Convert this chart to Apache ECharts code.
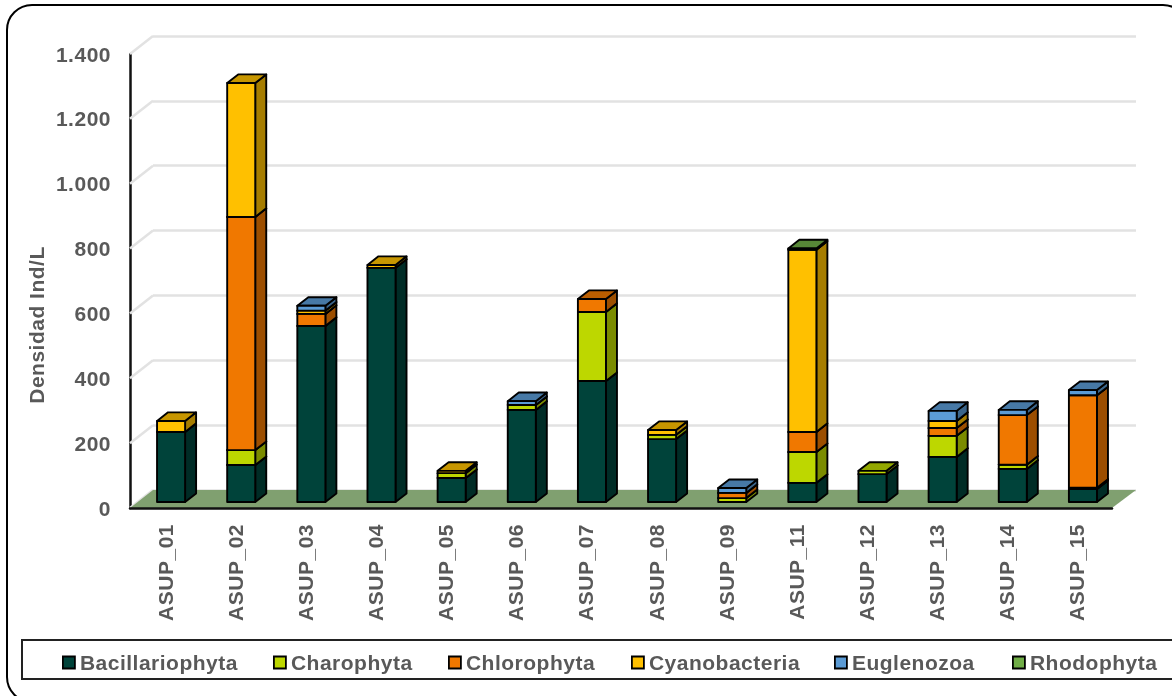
<!DOCTYPE html>
<html>
<head>
<meta charset="utf-8">
<script src="https://cdn.jsdelivr.net/npm/echarts@6/dist/echarts.min.js"></script>
<style>
html,body{margin:0;padding:0;background:#fff}
#c{width:1172px;height:696px;overflow:hidden;filter:blur(0.45px)}
#c text{letter-spacing:0.5px}
</style>
</head>
<body>
<div id="c"></div>
<script>
const categories = ['ASUP_01','ASUP_02','ASUP_03','ASUP_04','ASUP_05','ASUP_06','ASUP_07','ASUP_08','ASUP_09','ASUP_11','ASUP_12','ASUP_13','ASUP_14','ASUP_15'];
const bacillariophyta = [216,114,543,722,74,284,373,194,0,59,86,139,102,40];
const charophyta      = [0,46,0,0,15,15,213,13,12,95,10,65,13,4];
const chlorophyta     = [0,719,37,0,0,0,40,0,16,62,0,24,153,285];
const cyanobacteria   = [34,413,10,9,7,0,0,15,0,562,0,22,0,0];
const euglenozoa      = [0,0,15,0,0,12,0,0,15,0,0,31,16,16];
const rhodophyta      = [0,0,0,0,0,0,0,0,0,4,0,0,0,0];
const yTicks = [0,200,400,600,800,1000,1200,1400];
const yTickLabels = ['0','200','400','600','800','1.000','1.200','1.400'];

const phyla = [
  ['Bacillariophyta', bacillariophyta, '#00433A', 62],
  ['Charophyta', charophyta, '#BDD700', 273],
  ['Chlorophyta', chlorophyta, '#F07800', 448],
  ['Cyanobacteria', cyanobacteria, '#FFC000', 631],
  ['Euglenozoa', euglenozoa, '#5B9BD5', 834],
  ['Rhodophyta', rhodophyta, '#70AD47', 1012]
];
const WALL_DX = 23, WALL_DY = -18, BAR_DX = 11, BAR_DY = -8.6;
const FONT = '"Liberation Sans", Arial, sans-serif', GREY = '#595959';

function shade(hex, k) {
  const n = parseInt(hex.slice(1), 16);
  const f = s => Math.round(((n >> s) & 255) * k);
  return `rgb(${f(16)},${f(8)},${f(0)})`;
}

function barItem(color) {
  const sideC = shade(color, 0.65), topC = shade(color, 0.78);
  return (params, api) => {
    const base = api.value(1), top = api.value(2);
    if (top <= base) return null;
    const w = api.size([1, 0])[0] * 0.4;
    const a = api.coord([api.value(0), base]);
    const b = api.coord([api.value(0), top]);
    const x0 = a[0] - w / 2, x1 = a[0] + w / 2, y0 = a[1], y1 = b[1];
    const st = { stroke: '#000', lineWidth: 1.9, lineJoin: 'round' };
    const poly = (pts, fill) => ({ type: 'polygon', shape: { points: pts }, style: Object.assign({ fill }, st) });
    return { type: 'group', children: [
      poly([[x1, y0], [x1 + BAR_DX, y0 + BAR_DY], [x1 + BAR_DX, y1 + BAR_DY], [x1, y1]], sideC),
      poly([[x0, y1], [x1, y1], [x1 + BAR_DX, y1 + BAR_DY], [x0 + BAR_DX, y1 + BAR_DY]], topC),
      poly([[x0, y0], [x1, y0], [x1, y1], [x0, y1]], color)
    ] };
  };
}

const cum = categories.map(() => 0);
const barSeries = phyla.map(([name, vals, color]) => {
  const data = vals.map((v, i) => { const row = [i, cum[i], cum[i] + v]; cum[i] += v; return row; });
  return {
    type: 'custom', name, xAxisIndex: 2, yAxisIndex: 2, z: 5,
    itemStyle: { color }, encode: { x: 0, y: [1, 2] }, data, renderItem: barItem(color), silent: true
  };
});

const wallSeries = {
  type: 'custom', name: 'wall', xAxisIndex: 0, yAxisIndex: 0, z: 1, silent: true,
  data: yTicks.map(t => [0, t]), encode: { x: 0, y: 1 },
  renderItem: (params, api) => {
    const y = api.coord([0, api.value(1)])[1], x = params.coordSys.x;
    return { type: 'line', shape: { x1: x, y1: y, x2: x + WALL_DX, y2: y + WALL_DY }, style: { stroke: '#e2e2e2', lineWidth: 2.5 } };
  }
};
const floorSeries = {
  type: 'custom', name: 'floor', xAxisIndex: 0, yAxisIndex: 0, z: 2, silent: true,
  data: [[0, 0]], encode: { x: 0, y: 1 },
  renderItem: (params, api) => {
    const y = api.coord([0, 0])[1], cs = params.coordSys;
    const l = cs.x, r = cs.x + cs.width;
    return { type: 'polygon', shape: { points: [[l, y], [r, y], [r + WALL_DX + 1, y + WALL_DY], [l + WALL_DX, y + WALL_DY]] }, style: { fill: '#80A070' } };
  }
};

const option = {
  animation: false,
  backgroundColor: '#fff',
  textStyle: { fontFamily: FONT },
  grid: [
    { left: 130, right: 60, top: 54, bottom: 188 },
    { left: 153, right: 36, top: 36, bottom: 206 },
    { left: 136, right: 54, top: 48, bottom: 194 }
  ],
  xAxis: [
    { type: 'category', gridIndex: 0, data: categories, z: 6,
      axisLine: { lineStyle: { color: '#111', width: 2.5 } }, axisTick: { show: false },
      axisLabel: { rotate: 90, interval: 0, margin: 16, color: GREY, fontFamily: FONT, fontWeight: 'bold', fontSize: 21 } },
    { type: 'category', gridIndex: 1, data: categories, show: false },
    { type: 'category', gridIndex: 2, data: categories, show: false }
  ],
  yAxis: [
    { type: 'value', gridIndex: 0, min: 0, max: 1400, interval: 200, name: 'Densidad Ind/L', nameLocation: 'middle', nameGap: 83, nameRotate: 90,
      nameTextStyle: { color: GREY, fontFamily: FONT, fontWeight: 'bold', fontSize: 21, padding: [0, 88, 0, 0] },
      axisLine: { show: true, lineStyle: { color: '#111', width: 2.5 } }, axisTick: { show: false }, splitLine: { show: false },
      axisLabel: { margin: 19, color: GREY, fontFamily: FONT, fontWeight: 'bold', fontSize: 21, formatter: v => yTickLabels[yTicks.indexOf(v)] } },
    { type: 'value', gridIndex: 1, min: 0, max: 1400, interval: 200,
      axisLine: { show: false }, axisTick: { show: false }, axisLabel: { show: false },
      splitLine: { show: true, lineStyle: { color: '#e2e2e2', width: 2.5 } } },
    { type: 'value', gridIndex: 2, min: 0, max: 1400, interval: 200,
      axisLine: { show: false }, axisTick: { show: false }, axisLabel: { show: false }, splitLine: { show: false } }
  ],
  legend: phyla.map(([name, , color, left]) => ({
    left, top: 652, padding: 0, itemWidth: 12, itemHeight: 12, itemGap: 0, selectedMode: false,
    data: [{ name, icon: 'rect', itemStyle: { color, borderColor: '#000', borderWidth: 1.8 } }],
    textStyle: { color: GREY, fontFamily: FONT, fontWeight: 'bold', fontSize: 21 }
  })),
  graphic: [
    { type: 'rect', silent: true, z: -1, shape: { x: 7, y: 5, width: 1181, height: 697, r: 25 }, style: { fill: 'none', stroke: '#000', lineWidth: 2 } },
    { type: 'rect', silent: true, z: -1, shape: { x: 22, y: 640, width: 1180, height: 39 }, style: { fill: '#fff', stroke: '#222', lineWidth: 2 } }
  ],
  series: [wallSeries, floorSeries].concat(barSeries)
};
echarts.init(document.getElementById('c'), null, { renderer: 'svg' }).setOption(option);
</script>
</body>
</html>
